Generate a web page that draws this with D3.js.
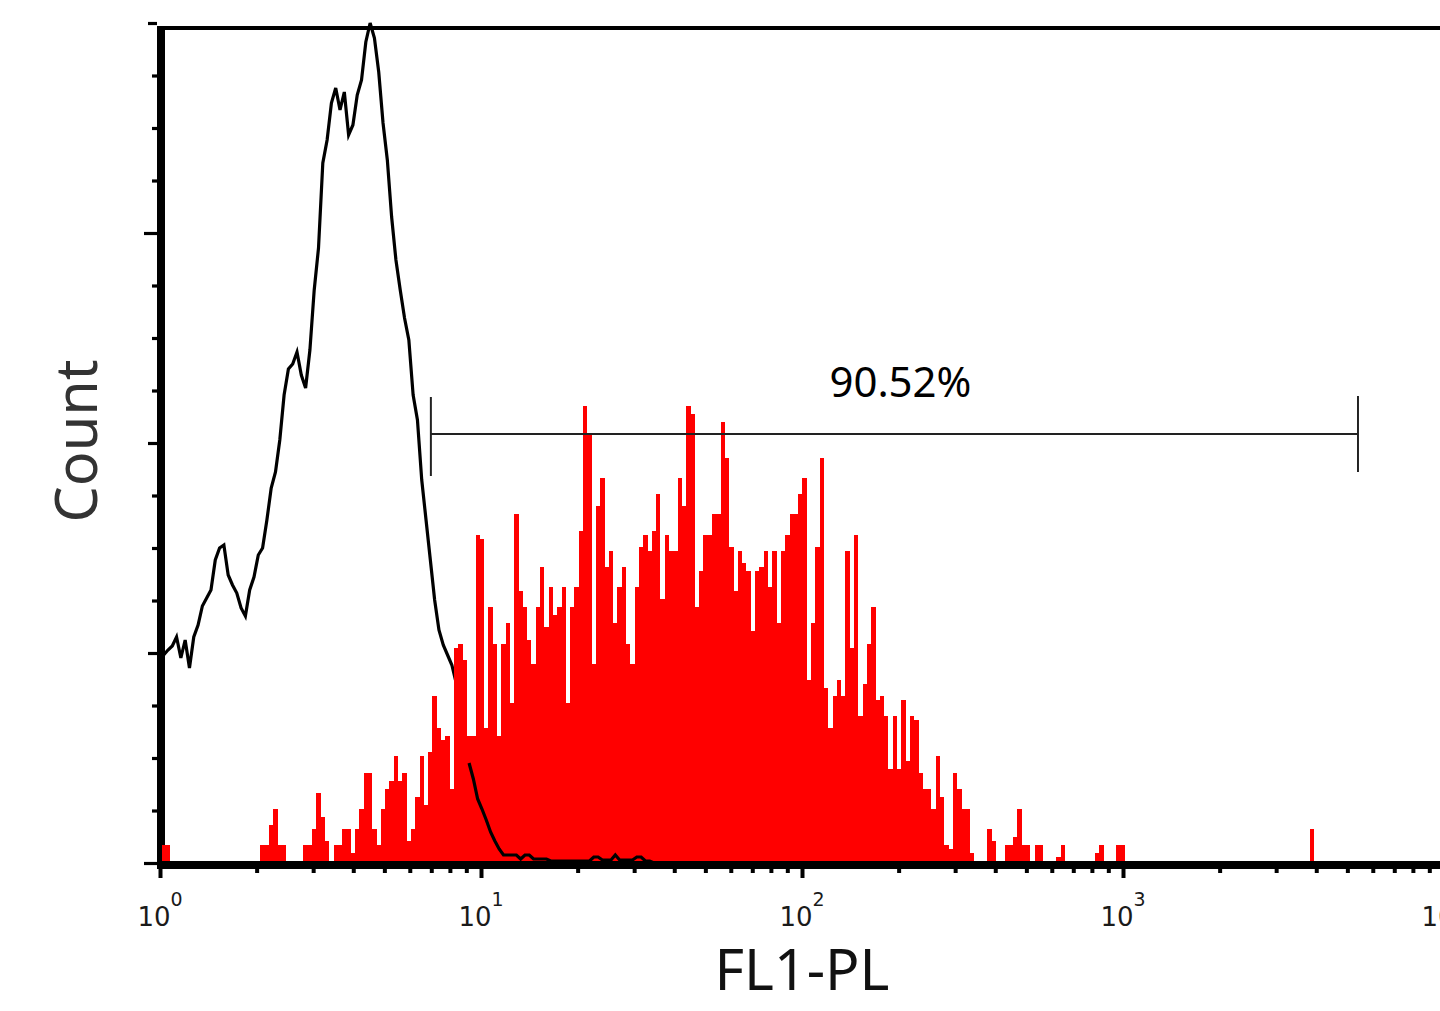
<!DOCTYPE html>
<html><head><meta charset="utf-8">
<script src="https://cdn.jsdelivr.net/npm/d3@7"></script>
<style>html,body{margin:0;padding:0;background:#fff;overflow:hidden}</style>
</head><body>
<svg id="c" width="1440" height="1011" xmlns="http://www.w3.org/2000/svg"></svg>
<script>
// ---------- data ----------
const decadeTicks = [1, 10, 100, 1000, 10000];
const decadeExponents = ["0", "1", "2", "3", "4"];
const yMajorTicks = [0, 210, 420, 630, 840];
const yLongTicks = [0, 630];
const yMinorStep = 52.5;
const xLabel = "FL1-PL";
const yLabel = "Count";
const gateLabel = "90.52%";
const gateRange = [6.98, 5395];
const gateLevel = 429;
// histogram channels (log10 positions)
const binStartLog = 0.0047;
const binWidthLog = 0.0134;
// stained sample (red, filled)
const redCounts = [
  18,18,0,0,0,0,0,0,0,0,
  0,0,0,0,0,0,0,0,0,0,
  0,0,0,18,18,38,54,18,18,0,
  0,0,0,18,18,34,70,46,22,0,
  18,18,34,34,10,34,54,90,90,34,
  18,54,74,82,107,82,90,22,34,66,
  107,58,111,167,135,123,127,74,215,219,
  203,127,127,328,324,135,256,219,127,219,
  240,160,349,272,256,223,199,256,296,236,
  276,248,256,276,160,256,276,332,457,428,
  199,357,385,296,312,240,276,296,219,199,
  276,316,328,312,332,369,264,328,312,312,
  385,357,457,449,256,292,328,328,349,349,
  441,405,316,272,312,300,292,232,292,296,
  312,276,312,240,312,328,349,349,369,385,
  183,240,316,405,175,135,167,183,167,312,
  215,328,147,179,219,256,163,167,147,94,
  147,94,163,102,147,143,90,74,74,54,
  107,66,18,14,90,74,54,54,10,0,
  0,0,34,22,0,0,18,18,26,54,
  18,18,0,18,18,0,0,0,6,18,
  0,0,0,0,0,0,0,10,18,0,
  0,0,18,18,0,0,0,0,0,0,
  0,0,0,0,0,0,0,0,0,0,
  0,0,0,0,0,0,0,0,0,0,
  0,0,0,0,0,0,0,0,0,0,
  0,0,0,0,0,0,0,34
];
// control (black outline)
const blackCounts = [
  208,213,217,226,205,223,195,226,238,257,
  265,273,303,315,318,288,278,270,255,247,
  273,286,308,315,343,375,391,423,468,494,
  499,511,488,475,513,573,615,700,723,760,
  775,753,771,728,738,768,783,821,840,825,
  791,740,703,646,603,573,545,523,468,443,
  383,343,303,263,233,218,208,198,180,158,
  123,100,84,64,54,43,31,22,14,8,
  8,8,8,4,8,8,4,4,4,4,
  2,2,2,2,2,2,2,2,2,2,
  6,6,3,3,3,8,3,3,3,3,
  6,6,2,2,0
];
const blackOverlayFromBin = 71;

// ---------- scales ----------
const svg = d3.select("#c");
const x = d3.scaleLog().domain([1, 1e4]).range([160, 1444]);
const y = d3.scaleLinear().domain([0, 840]).range([863, 23]);
const FONT = "'Noto Sans','Open Sans',sans-serif";

// ---------- y ticks ----------
const yMinor = d3.range(0, 840.1, yMinorStep).filter(v => !yMajorTicks.includes(v));
function yAxisGroup(values, size) {
  const g = svg.append("g").attr("transform", "translate(157,0)")
    .call(d3.axisLeft(y).tickValues(values).tickSize(size).tickFormat(""));
  g.select(".domain").remove();
  g.selectAll(".tick line").attr("stroke", "#000").attr("stroke-width", 3.2);
  return g;
}
yAxisGroup(yMinor, 5);
yAxisGroup(yMajorTicks.filter(v => !yLongTicks.includes(v)), 9);
yAxisGroup(yLongTicks, 13);

// ---------- x ticks ----------
const xMinor = [];
decadeTicks.slice(0, -1).forEach(d => { for (let m = 2; m <= 9; m++) xMinor.push(d * m); });
function xAxisGroup(values, size) {
  const g = svg.append("g").attr("transform", "translate(0,869)")
    .call(d3.axisBottom(x).tickValues(values).tickSize(size).tickFormat(""));
  g.select(".domain").remove();
  g.selectAll(".tick line").attr("stroke", "#000").attr("stroke-width", 4);
  return g;
}
xAxisGroup(xMinor, 4);
xAxisGroup(decadeTicks, 9);

// left axis line
svg.append("line").attr("x1", 161).attr("x2", 161).attr("y1", 26).attr("y2", 869)
  .attr("stroke", "#000").attr("stroke-width", 8);

// ---------- histograms ----------
const centerOf = i => Math.pow(10, binStartLog + (i + 0.5) * binWidthLog);
const lowOf = i => Math.pow(10, binStartLog + i * binWidthLog);
const blackPts = blackCounts.map((v, i) => ({ c: centerOf(i), v, i }));
const blackLine = d3.line().x(d => x(d.c)).y(d => y(d.v));

// black outline (part lying under the red fill)
svg.append("path").datum(blackPts.filter(d => d.i <= blackOverlayFromBin))
  .attr("d", blackLine).attr("fill", "none").attr("stroke", "#000")
  .attr("stroke-width", 3.2).attr("stroke-linejoin", "miter");

const redPts = redCounts.map((v, i) => ({ lo: lowOf(i), v }));
redPts.push({ lo: lowOf(redCounts.length), v: 0 });
const redArea = d3.area().x(d => x(d.lo)).y0(y(0)).y1(d => y(d.v)).curve(d3.curveStepAfter);
svg.append("path").datum(redPts).attr("d", redArea)
  .attr("fill", "#ff0000").attr("shape-rendering", "crispEdges");

// black outline (part drawn over the red fill)
svg.append("path").datum(blackPts.filter(d => d.i >= blackOverlayFromBin))
  .attr("d", blackLine).attr("fill", "none").attr("stroke", "#000")
  .attr("stroke-width", 3.2).attr("stroke-linejoin", "miter");

// bottom axis band and top border
svg.append("line").attr("x1", 157).attr("x2", 1440).attr("y1", 865).attr("y2", 865)
  .attr("stroke", "#000").attr("stroke-width", 8);
svg.append("line").attr("x1", 157).attr("x2", 1440).attr("y1", 28).attr("y2", 28)
  .attr("stroke", "#000").attr("stroke-width", 4);

// ---------- gate ----------
const gx0 = x(gateRange[0]), gx1 = x(gateRange[1]), gy = y(gateLevel);
const gate = svg.append("g").attr("stroke", "#222").attr("stroke-width", 2);
gate.append("line").attr("x1", gx0).attr("x2", gx1).attr("y1", gy).attr("y2", gy);
gate.append("line").attr("x1", gx0).attr("x2", gx0).attr("y1", gy - 37).attr("y2", gy + 42);
gate.append("line").attr("x1", gx1).attr("x2", gx1).attr("y1", gy - 38).attr("y2", gy + 38);
svg.append("text").attr("x", (gx0 + gx1) / 2 + 6).attr("y", 397)
  .attr("text-anchor", "middle").attr("font-family", FONT).attr("font-size", 42)
  .attr("fill", "#000").attr("textLength", 142).attr("lengthAdjust", "spacingAndGlyphs")
  .text(gateLabel);

// ---------- tick labels ----------
decadeTicks.forEach((t, i) => {
  const tx = svg.append("text").attr("x", x(t)).attr("y", 926)
    .attr("text-anchor", "middle").attr("font-family", "'DejaVu Sans',sans-serif")
    .attr("fill", "#1a1a1a");
  tx.append("tspan").attr("font-size", 26).text("10");
  tx.append("tspan").attr("font-size", 19).attr("dy", -20).text(decadeExponents[i]);
});

// ---------- axis titles ----------
svg.append("text").attr("x", 802).attr("y", 990).attr("text-anchor", "middle")
  .attr("font-family", FONT).attr("font-size", 57).attr("fill", "#111")
  .attr("textLength", 175).attr("lengthAdjust", "spacingAndGlyphs").text(xLabel);
svg.append("text").attr("transform", "translate(97,441) rotate(-90)")
  .attr("text-anchor", "middle").attr("font-family", FONT).attr("font-size", 58)
  .attr("fill", "#333").attr("textLength", 163).attr("lengthAdjust", "spacingAndGlyphs")
  .text(yLabel);
</script>
</body></html>
